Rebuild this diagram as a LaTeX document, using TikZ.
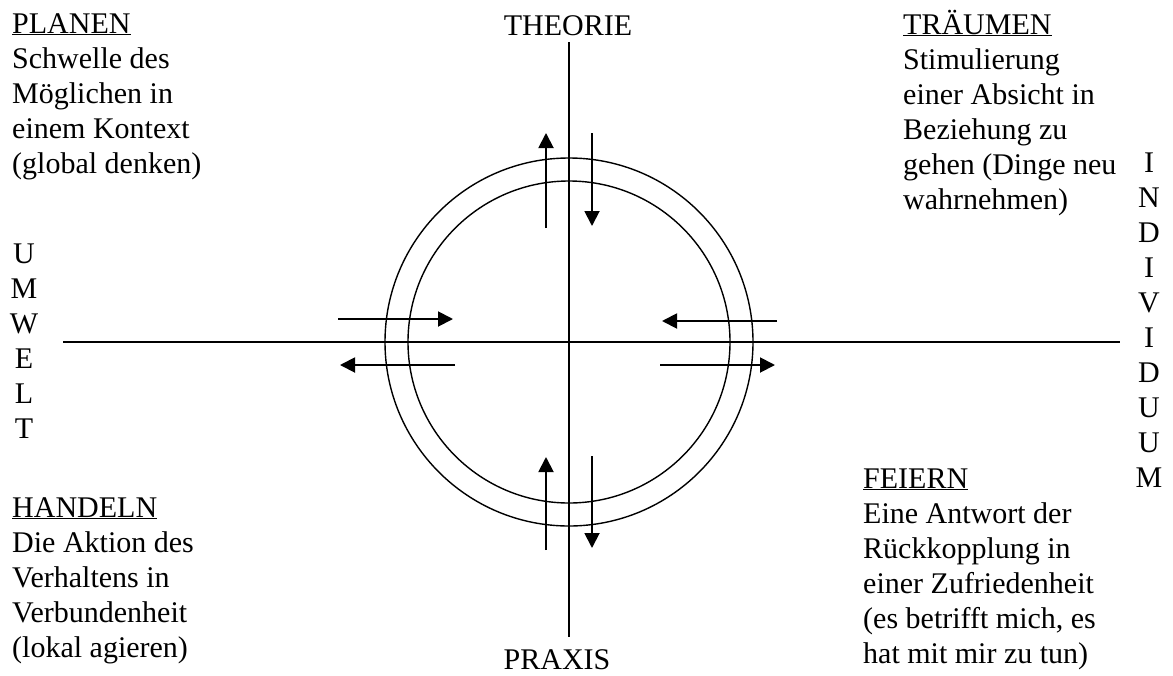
\documentclass[tikz,border=0pt]{standalone}
\usepackage{fontspec}
\setmainfont{Liberation Serif}
\usetikzlibrary{arrows.meta}

\begin{document}
\begin{tikzpicture}[x=1pt, y=-1pt,
  txt/.style={anchor=base west, align=left, inner sep=0pt, font=\fontsize{30}{35}\selectfont},
  pole/.style={anchor=base, align=center, inner sep=0pt, font=\fontsize{30}{35}\selectfont},
  ax/.style={line width=1.4pt},
  ring/.style={line width=1.4pt},
  flow/.style={line width=1.9pt, -{Triangle[length=15pt, width=15pt]}}]
\useasboundingbox (0,0) rectangle (1173,675);
% the four phases in the corners (placed at the baseline of their last line)
\node[txt] (planen)   at (12,173)  {\underline{PLANEN}\\Schwelle des\\Möglichen in\\einem Kontext\\(global denken)};
\node[txt] (traeumen) at (903,209) {\underline{TRÄUMEN}\\Stimulierung\\einer Absicht in\\Beziehung zu\\gehen (Dinge neu\\wahrnehmen)};
\node[txt] (handeln)  at (12,657)  {\underline{HANDELN}\\Die Aktion des\\Verhaltens in\\Verbundenheit\\(lokal agieren)};
\node[txt] (feiern)   at (863,663) {\underline{FEIERN}\\Eine Antwort der\\Rückkopplung in\\einer Zufriedenheit\\(es betrifft mich, es\\hat mit mir zu tun)};
% poles of the two axes
\node[pole] (theorie)    at (568,35)   {THEORIE};
\node[pole] (praxis)     at (557,669)  {PRAXIS};
\node[pole] (umwelt)     at (24,438)   {U\\M\\W\\E\\L\\T};
\node[pole] (individuum) at (1149,487) {I\\N\\D\\I\\V\\I\\D\\U\\U\\M};
% axes
\coordinate (O)  at (569,342);
\coordinate (vt) at (569,42);
\coordinate (vb) at (569,637);
\coordinate (hl) at (63,342);
\coordinate (hr) at (1120,342);
\draw[ax] (vt) -- (vb);
\draw[ax] (hl) -- (hr);
% double ring
\draw[ring] (O) circle[radius=184pt];
\draw[ring] (O) circle[radius=161pt];
% crossing arrows
\foreach \n/\xa/\ya/\xb/\yb in {tu/546/228/546/133, td/592/133/592/226,
                                bu/546/550/546/457, bd/592/456/592/548,
                                lr/338/319/453/319, ll/455/365/340/365,
                                rl/777/321/662/321, rr/660/365/775/365}{
  \coordinate (\n-s) at (\xa,\ya);
  \coordinate (\n-e) at (\xb,\yb);
  \draw[flow] (\n-s) -- (\n-e);
}
\end{tikzpicture}
\end{document}
